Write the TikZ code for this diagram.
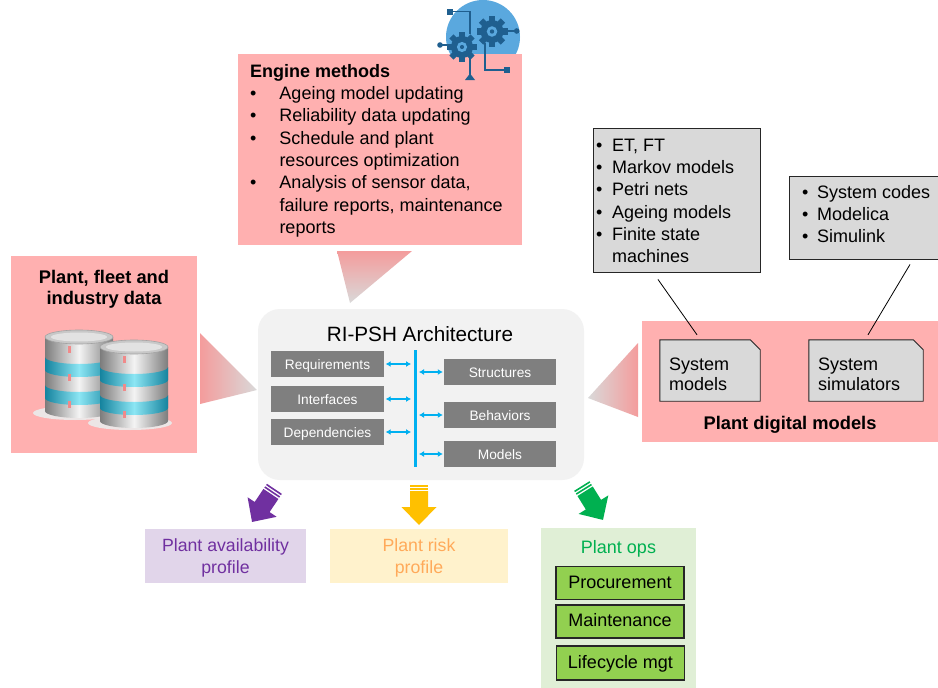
\documentclass[tikz,border=0pt]{standalone}
\usepackage{fontspec}
\setmainfont{Liberation Sans}
\usetikzlibrary{arrows.meta,calc}

\definecolor{boxpink}{HTML}{FFB0B0}
\definecolor{wedgepink}{HTML}{F49C9C}
\definecolor{wedgegray}{HTML}{D9D9D9}
\definecolor{archbg}{HTML}{F2F2F2}
\definecolor{archgray}{HTML}{7F7F7F}
\definecolor{barblue}{HTML}{00B0F0}
\definecolor{listgray}{HTML}{D9D9D9}
\definecolor{lavender}{HTML}{E1D5EA}
\definecolor{purpletxt}{HTML}{7030A0}
\definecolor{cream}{HTML}{FFF2CC}
\definecolor{orangetxt}{HTML}{FFAA5A}
\definecolor{palegreen}{HTML}{E0EFD6}
\definecolor{greentxt}{HTML}{00B050}
\definecolor{opsgreen}{HTML}{92D050}
\definecolor{arryellow}{HTML}{FFC000}
\definecolor{iconblue}{HTML}{5AA8DE}
\definecolor{gearblue}{HTML}{1F5F8F}
\definecolor{metaldark}{HTML}{7C7C7C}
\definecolor{metallight}{HTML}{F4F4F4}
\definecolor{metaltop}{HTML}{C8C8C8}
\definecolor{banddark}{HTML}{15839E}
\definecolor{bandlight}{HTML}{8CE6F4}
\definecolor{markred}{HTML}{F08A8A}
\definecolor{dbshadow}{HTML}{ECE6E6}

% a cog: centre x, centre y, outer radius
\newcommand{\cogwheel}[3]{%
  \fill[gearblue] (#1,#2) circle[radius=0.74*#3pt];
  \foreach \ang in {0,45,90,135}{%
    \fill[gearblue, rotate around={\ang:(#1,#2)}] (#1-0.2*#3,#2-#3) rectangle (#1+0.2*#3,#2+#3);}
  \fill[iconblue] (#1,#2) circle[radius=0.34*#3pt];
  \fill[gearblue] (#1,#2) circle[radius=0.14*#3pt];
}

% a banded database cylinder: centre x, top y
\newcommand{\dbstack}[2]{%
  \fill[dbshadow] (#1-4,#2+76) ellipse[x radius=42pt, y radius=7pt];
  \shade[left color=metaldark, right color=metaldark, middle color=metallight]
    (#1-34,#2) -- (#1-34,#2+74) arc[start angle=180,end angle=360,x radius=34pt,y radius=7pt] -- (#1+34,#2) -- cycle;
  \foreach \ta/\tb in {20/33,48/61}{%
    \shade[left color=banddark, right color=banddark, middle color=bandlight]
      (#1-34,#2+\ta) -- (#1-34,#2+\tb) arc[start angle=180,end angle=360,x radius=34pt,y radius=7pt]
      -- (#1+34,#2+\ta) arc[start angle=0,end angle=-180,x radius=34pt,y radius=7pt] -- cycle;}
  \foreach \ma/\mb in {9/16,37/44,64/71}{%
    \fill[markred] (#1-11,#2+\ma) rectangle (#1-8.5,#2+\mb);}
  \fill[metaltop, draw=metaldark!70, line width=0.6pt] (#1,#2) ellipse[x radius=34pt, y radius=7pt];
  \fill[metallight!60!metaltop] (#1,#2) ellipse[x radius=28pt, y radius=4.5pt];
}

\begin{document}
\begin{tikzpicture}[x=1pt,y=-1pt,
  txt/.style={inner sep=0pt, font=\fontsize{18}{22.3}\selectfont},
  panel/.style={rectangle, inner sep=0pt, draw=none},
  abox/.style={rectangle, fill=archgray, text=white, inner sep=0pt,
    font=\fontsize{13.7}{16}\selectfont, text height=11pt, text depth=1pt},
  listbox/.style={rectangle, fill=listgray, draw=black!85, line width=0.9pt, inner sep=0pt},
  docline/.style={fill=listgray, draw=black!85, line width=0.9pt},
  opsbox/.style={rectangle, fill=opsgreen, draw=black!85, line width=1.5pt, inner sep=0pt,
    minimum width=128pt, minimum height=33pt,
    font=\fontsize{18}{20}\selectfont, text height=13pt, text depth=3pt},
  dbl/.style={draw=barblue, line width=1.3pt,
    {Latex[length=5pt,width=6pt]}-{Latex[length=5pt,width=6pt]}},
  barline/.style={draw=barblue, line width=3pt},
  leader/.style={draw=black, line width=0.8pt},
  circuit/.style={draw=gearblue, line width=1.4pt},
  blockarrow/.pic={
    \fill (-9,0) rectangle (9,1.6);
    \fill (-9,3.1) rectangle (9,4.7);
    \fill (-9,6.2) -- (9,6.2) -- (9,22) -- (17.5,22) -- (0,40) -- (-17.5,22) -- (-9,22) -- cycle;
  }
]
\useasboundingbox (0,0) rectangle (938,688);
\fill[white] (0,0) rectangle (938,688);

% ---------- engine methods ----------
\fill[iconblue] (483,37) circle[radius=37pt];
\node[panel, fill=boxpink, minimum width=284pt, minimum height=191pt] (engine) at (380,149.5) {};
\node[txt, anchor=north west, align=left] (enginetxt) at (250,63) {%
  \rule{0pt}{14pt}\textbf{Engine methods}\\
  \makebox[29.3pt][l]{\textbullet}Ageing model updating\\
  \makebox[29.3pt][l]{\textbullet}Reliability data updating\\
  \makebox[29.3pt][l]{\textbullet}Schedule and plant\\
  \hspace*{29.3pt}resources optimization\\
  \makebox[29.3pt][l]{\textbullet}Analysis of sensor data,\\
  \hspace*{29.3pt}failure reports, maintenance\\
  \hspace*{29.3pt}reports};

% engine icon: cogs and circuit traces
\draw[circuit] (450,11.7) -- (470,11.7) -- (470,34);
\fill[gearblue] (447,8.7) rectangle (453,14.7);
\draw[circuit] (440,45) -- (452,45);
\fill[gearblue] (440,45) circle[radius=2.8pt];
\draw[circuit] (470,55) -- (470,76);
\fill[gearblue] (465,80) -- (475,80) -- (470,73.5) -- cycle;
\draw[circuit] (485,43) -- (485,70) -- (507,70);
\fill[gearblue] (504,67) rectangle (510,73);
\draw[circuit] (502,31) -- (516.7,31);
\fill[gearblue] (516.7,31) circle[radius=2.8pt];
\cogwheel{462}{47}{15}
\cogwheel{492}{31.5}{15.5}

% ---------- plant, fleet and industry data ----------
\node[panel, fill=boxpink, minimum width=186pt, minimum height=197pt] (data) at (104,354.5) {};
\node[txt, anchor=north, align=center, font=\fontsize{18.3}{21}\selectfont\bfseries] (datatxt) at (104,269)
  {\rule{0pt}{14pt}Plant, fleet and\\industry data};
\dbstack{79}{337}
\dbstack{134}{347}

% ---------- pointer wedges ----------
\shade[top color=wedgepink, middle color=wedgepink!80!wedgegray, bottom color=wedgegray]
  (337,251) -- (412,251) -- (350,303) -- cycle;
\shade[left color=wedgepink, middle color=wedgepink!85!wedgegray, right color=wedgegray]
  (200,333) -- (257,390) -- (200,404) -- cycle;
\shade[left color=wedgegray, middle color=wedgepink!85!wedgegray, right color=wedgepink]
  (588,398) -- (638,343) -- (638,417) -- cycle;

% ---------- RI-PSH architecture ----------
\node[panel, fill=archbg, rounded corners=22pt, minimum width=326pt, minimum height=171pt] (arch) at (421,394.5) {};
\node[txt, anchor=base, font=\fontsize{20.7}{24}\selectfont] (archtitle) at (420,341) {RI-PSH Architecture};
\node[abox, minimum width=113pt, minimum height=26pt] (req)   at (327.5,364) {Requirements};
\node[abox, minimum width=113pt, minimum height=26pt] (intf)  at (327.5,399) {Interfaces};
\node[abox, minimum width=113pt, minimum height=26pt] (dep)   at (327.5,432) {Dependencies};
\node[abox, minimum width=112pt, minimum height=26pt] (struc) at (500,372) {Structures};
\node[abox, minimum width=112pt, minimum height=26pt] (behav) at (500,415) {Behaviors};
\node[abox, minimum width=112pt, minimum height=26pt] (mdls)  at (500,454) {Models};
\coordinate (bartop) at (415,350);
\coordinate (barbot) at (415,467);
\draw[barline] (bartop) -- (barbot);
\foreach \b in {req,intf,dep}{
  \draw[dbl] ($(\b.east)+(1.5,0)$) -- ($(bartop |- \b.east)+(-4,0)$);}
\foreach \b in {struc,behav,mdls}{
  \draw[dbl] ($(bartop |- \b.west)+(4,0)$) -- ($(\b.west)+(-1,0)$);}

% ---------- plant digital models ----------
\node[panel, fill=boxpink, minimum width=298pt, minimum height=121pt] (digital) at (791,381.5) {};
\node[txt, anchor=base, font=\fontsize{18.3}{22}\selectfont\bfseries] (digitaltxt) at (790,429) {Plant digital models};
\node[panel, minimum width=100pt, minimum height=61pt] (sysm) at (710,370.5) {};
\node[panel, minimum width=114pt, minimum height=61pt] (syss) at (866,370.5) {};
\foreach \d in {sysm,syss}{
  \draw[docline] (\d.north west) -- ($(\d.north east)+(-10,0)$) -- ($(\d.north east)+(0,10)$)
    -- (\d.south east) -- (\d.south west) -- cycle;}
\node[txt, anchor=north west, align=left, font=\fontsize{18}{20}\selectfont] (sysmtxt) at (669,356)
  {\rule{0pt}{14pt}System\\models};
\node[txt, anchor=north west, align=left, font=\fontsize{18}{20}\selectfont] (sysstxt) at (818,356)
  {\rule{0pt}{14pt}System\\simulators};

% ---------- model formalisms and codes ----------
\node[listbox, minimum width=167pt, minimum height=144pt] (lst1) at (676.5,200) {};
\node[txt, anchor=north west, align=left] (lst1txt) at (596,137) {%
  \rule{0pt}{14pt}\makebox[16pt][l]{\textbullet}ET, FT\\
  \makebox[16pt][l]{\textbullet}Markov models\\
  \makebox[16pt][l]{\textbullet}Petri nets\\
  \makebox[16pt][l]{\textbullet}Ageing models\\
  \makebox[16pt][l]{\textbullet}Finite state\\
  \hspace*{16pt}machines};
\node[listbox, minimum width=151pt, minimum height=83pt] (lst2) at (864.5,217.5) {};
\node[txt, anchor=north west, align=left, font=\fontsize{18}{22}\selectfont] (lst2txt) at (802,184) {%
  \rule{0pt}{14pt}\makebox[15pt][l]{\textbullet}System codes\\
  \makebox[15pt][l]{\textbullet}Modelica\\
  \makebox[15pt][l]{\textbullet}Simulink};
\draw[leader] ($(lst1.south)+(-18.5,7)$) -- ($(sysm.north)+(-13,-5)$);
\draw[leader] ($(lst2.south)+(45.5,5)$) -- ($(syss.north)+(2,-5)$);

% ---------- outputs ----------
\pic[color=purpletxt, rotate=-34] at (274.4,488.8) {blockarrow};
\pic[color=arryellow] at (419,485) {blockarrow};
\pic[color=greentxt, rotate=32] at (581.8,486) {blockarrow};

\node[panel, fill=lavender, minimum width=161pt, minimum height=54pt] (avail) at (225.5,556) {};
\node[txt, anchor=north, align=center, text=purpletxt, font=\fontsize{17.7}{22}\selectfont] (availtxt) at (225.5,537)
  {\rule{0pt}{14pt}Plant availability\\profile};
\node[panel, fill=cream, minimum width=178pt, minimum height=54pt] (risk) at (419,556) {};
\node[txt, anchor=north, align=center, text=orangetxt, font=\fontsize{17.7}{22}\selectfont] (risktxt) at (419,537)
  {\rule{0pt}{14pt}Plant risk\\profile};
\node[panel, fill=palegreen, minimum width=155pt, minimum height=162pt] (ops) at (618.5,609) {};
\node[txt, anchor=base, text=greentxt] (opstxt) at (618.5,553) {Plant ops};
\node[opsbox] (proc)  at (620,583)   {Procurement};
\node[opsbox] (maint) at (620,621.5) {Maintenance};
\node[opsbox, minimum height=34pt] (life)  at (620.5,663) {Lifecycle mgt};
\end{tikzpicture}
\end{document}
